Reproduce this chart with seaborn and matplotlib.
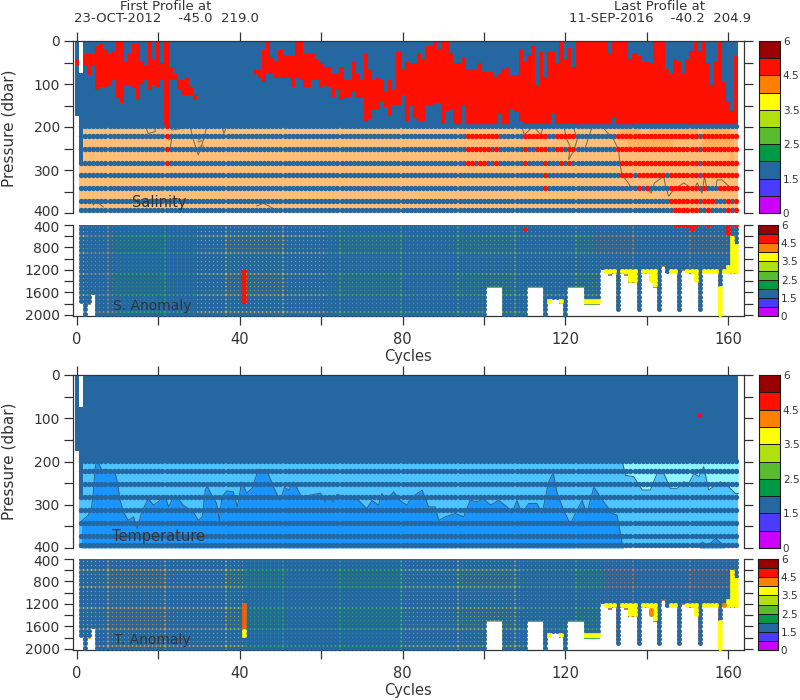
import numpy as np
import seaborn as sns
import matplotlib
matplotlib.use("Agg")
import matplotlib.pyplot as plt
from matplotlib.colors import ListedColormap
from matplotlib.transforms import ScaledTranslation

N = None

# colour bar classes, bottom to top
flag_colors = ["#CC00FF", "#4B3BFF", "#2568A1", "#009944", "#59BB30",
               "#B0E010", "#FFFF00", "#FF8000", "#FF0F00", "#990000"]
flag_labels = ["6", "4.5", "3.5", "2.5", "1.5", "0"]

x_ticks = [0, 20, 40, 60, 80, 100, 120, 140, 160]
x_labels = ["0", "", "40", "", "80", "", "120", "", "160"]

# salinity: red flags in the upper layer, one value per cycle (0 to 162)
sal_red_top = [45, N, 30, 30, 30, 12, 6, 20, 30, 25,
               2, 2, 49, 30, 8, 8, 49, 56, 2, 45,
               2, 52, 2, 60, 77, 91, 91, 85, 108, 126,
               N, N, N, N, N, N, N, N, N, N,
               N, N, N, N, 68, 68, 22, 2, 37, 49,
               20, 33, 35, 35, 2, 2, 30, 30, 31, 41,
               52, 60, 60, 77, 75, 60, 91, 91, 49, 77,
               91, 30, 64, 91, 85, 91, 118, 91, 114, 25,
               66, 49, 52, 52, 29, 41, 12, 12, 2, 18,
               2, 2, 29, 52, 52, 37, 64, 64, 68, 52,
               72, 72, 72, 83, 77, 64, 60, 80, 80, 18,
               49, 33, 12, 103, 25, 83, 25, 25, 52, 2,
               41, 17, 60, 0, 0, 0, 0, 0, 0, 0,
               0, 29, 0, 0, 0, 0, 41, 29, 35, 48,
               48, 52, 0, 0, 0, 66, 77, 41, 48, 75,
               41, 23, 0, 23, 0, 52, 102, 48, 0, 94,
               143, 162, 35]
sal_red_bot = [55, N, 57, 78, 57, 113, 108, 108, 105, 91,
               132, 144, 103, 103, 110, 137, 99, 91, 113, 103,
               108, 91, 198, 91, 91, 113, 126, 126, 126, 137,
               N, N, N, N, N, N, N, N, N, N,
               N, N, N, N, 77, 87, 95, 77, 77, 85,
               85, 85, 87, 108, 87, 91, 108, 108, 91, 91,
               108, 103, 108, 131, 114, 137, 133, 131, 118, 130,
               131, 185, 182, 157, 157, 141, 154, 174, 149, 149,
               126, 187, 151, 180, 187, 187, 151, 151, 145, 145,
               198, 162, 157, 198, 198, 151, 198, 198, 198, 198,
               198, 198, 198, 198, 170, 198, 198, 157, 164, 185,
               198, 198, 198, 198, 198, 198, 198, 170, 198, 198,
               198, 198, 198, 198, 198, 198, 198, 198, 198, 198,
               198, 198, 180, 198, 198, 198, 198, 198, 198, 198,
               198, 198, 198, 198, 198, 198, 198, 198, 198, 198,
               198, 198, 198, 198, 198, 198, 198, 198, 198, 198,
               198, 198, 198]

# sampled pressures below 200 dbar
deep_rows = [198, 222, 252, 283, 312, 342, 372, 392]
# red runs (first cycle, last cycle) for each row of deep_rows
sal_row_red = [
    [(22, 22)],
    [(22, 22), (96, 103), (110, 115), (118, 122), (133, 152), (154, 162)],
    [(22, 22), (96, 101), (103, 103), (110, 110), (113, 115), (118, 119), (121, 122), (133, 152), (154, 162)],
    [(22, 22), (96, 97), (99, 100), (103, 103), (110, 110), (115, 115), (119, 119), (121, 121), (134, 152), (154, 162)],
    [(115, 115), (134, 136), (138, 144), (146, 152), (154, 162)],
    [(115, 115), (138, 138), (140, 140), (146, 152), (154, 154), (158, 162)],
    [(146, 152), (154, 156), (160, 160), (162, 162)],
    [(147, 152), (155, 155), (160, 160), (162, 162)],
]

sal_patch_first = [134, 136, 141, 147, 154, 161]
sal_patch_last = [138, 140, 146, 152, 160, 161]
sal_patch_top = [198, 225, 198, 198, 198, 230]
sal_patch_bot = [225, 252, 250, 230, 252, 285]

sal_contours = [
    ([129.4, 131.9, 133.1, 133.4, 133.9, 135.2, 136, 138.4, 140.5, 141.1, 141.9, 144.2, 144.6, 145.4, 146.6,
      149.1, 151.6, 152.4, 153.6, 154.2, 154.8, 156.9, 157.3, 158.5, 160.2, 162.6],
     [203, 230, 253, 284, 311, 327, 338, 340, 346, 354, 330, 315, 338, 361, 346,
      330, 346, 330, 354, 315, 346, 346, 323, 323, 338, 346]),
    ([119.6, 120.4, 121.2, 120.8, 122, 122.9, 122], [198, 230, 245, 276, 257, 230, 199]),
    ([109.3, 109.9, 112.2, 113.9, 114.7], [198, 218, 198, 218, 198]),
    ([125, 126.6], [245, 199]),
    ([16.7, 17.5, 19.2, 19.2], [198, 215, 211, 198]),
    ([22.9, 23.3, 26.1, 25.7], [198, 207, 203, 198]),
    ([27.8, 28.6, 29.8, 31.1, 31.9], [198, 230, 265, 230, 198]),
    ([35.6, 36.1, 36.8], [198, 215, 198]),
    ([22.5, 23.3, 22.9], [230, 226, 249]),
    ([4, 4.8, 6.5], [381, 374, 386]),
    ([44.2, 45.8, 48.7], [384, 377, 392]),
]

# temperature contours
temp_mid_cycle = [1.1, 2.8, 3.6, 4, 4.4, 4.8, 5.4, 6.1, 7.3, 9.3, 9.8, 10.6, 11.4, 12.6, 13.9, 14.8, 15.9, 17.5,
                  18.8, 20, 21.6, 22.5, 23.7, 24.9, 26.1, 28.6, 29.8, 30.8, 31.5, 32, 33.1, 34.3, 35, 35.6, 36.8,
                  38.4, 39.4, 40.5, 41.7, 43, 44.6, 46.6, 48.3, 49.9, 51, 52, 53.2, 55.2, 59.8, 61, 61.8, 63, 63.9,
                  66.3, 69.2, 71.2, 72.5, 74.1, 74.9, 76.1, 77.8, 79.4, 81.1, 81.9, 84.8, 86.4, 88, 88.9, 90.5, 93,
                  95, 96.6, 98.3, 99.9, 101.6, 103.6, 105.7, 106.9, 108.1, 109.3, 111, 113, 114.3, 115.9, 117, 118,
                  119.6, 121.2, 122.5, 124.1, 125.3, 127, 129.4, 131.5, 132.7, 133.9, 134.3]
temp_mid_p = [338, 324, 305, 274, 220, 197, 205, 220, 218, 224, 243, 290, 317, 336, 328, 355, 317, 286,
              301, 293, 278, 305, 282, 286, 301, 317, 336, 328, 266, 257, 278, 297, 336, 282, 268,
              270, 305, 247, 273, 262, 218, 220, 259, 290, 260, 266, 247, 282, 273, 293, 282, 293, 276,
              282, 290, 309, 290, 301, 274, 290, 270, 290, 301, 286, 266, 305, 305, 336, 328, 320,
              328, 290, 293, 286, 301, 290, 305, 320, 290, 320, 297, 297, 320, 247, 226, 274,
              313, 344, 320, 290, 320, 259, 293, 320, 324, 386, 400]
temp_pale_cycle = [133.9, 134.8, 136.8, 138.9, 140.9, 142.5, 144.2, 145.8, 147.5, 149.1, 150.3, 151.6, 152.8,
                   154, 155.2, 158.1, 160.2, 161.8, 162.5]
temp_pale_p = [197, 232, 235, 266, 266, 228, 228, 262, 262, 247, 251, 228, 235, 212, 266, 247, 259, 274, 274]
temp_blob_cycle = [153, 153.6, 155, 156.9, 158.5, 159]
temp_blob_p = [400, 386, 395, 378, 390, 400]

temp_red_cycle = [153]
temp_red_p = [93]

# anomaly panels
anom_levels = [400, 475, 550, 625, 700, 775, 850, 925, 1000, 1075, 1150, 1225,
               1300, 1375, 1450, 1525, 1600, 1675, 1750, 1825, 1900, 1975]
short_cycle = [1, 2, 3, 4, 101, 102, 103, 104, 111, 112, 113, 114, 116, 117, 118, 119, 121, 122, 123, 124,
               125, 126, 127, 128, 129, 130, 131, 132, 133, 134, 135, 136, 137, 138, 139, 140, 141, 142, 143,
               144, 145, 146, 147, 148, 149, 150, 151, 152, 153, 154, 155, 156, 157, 158, 159, 160, 161, 162]
short_bottom = [1750, 1990, 1800, 1620, 1500, 1500, 1500, 1500, 1500, 1500, 1500, 1500, 1770, 1700, 1700, 1790,
                1500, 1500, 1500, 1500, 1800, 1800, 1800, 1800, 1190, 1250, 1280, 1260, 1905, 1260, 1280, 1420,
                1420, 1905, 1260, 1260, 1380, 1500, 1905, 1130, 1250, 1250, 1250, 1905, 1200, 1230, 1260, 1380,
                1905, 1250, 1250, 1250, 1250, 1980, 1250, 1230, 1260, 1260]
yellow_cycle = [116, 117, 118, 119, 125, 126, 127, 128, 130, 131, 132, 134, 135, 136, 137, 139, 140, 141, 142,
                146, 147, 150, 151, 152, 154, 155, 156, 157, 158, 159, 160, 161, 162]
yellow_top = [1680, 1680, 1680, 1680, 1680, 1680, 1680, 1680, 1200, 1200, 1200, 1200, 1200, 1200, 1200,
              1200, 1200, 1200, 1200, 1200, 1200, 1200, 1200, 1200, 1200, 1200, 1200, 1200, 1500,
              1200, 1130, 600, 720]

s_flag_cycle = [41, 110, 147, 148, 149, 150, 151, 152, 155, 160, 162]
s_flag_top = [1200, 475, 400, 400, 400, 400, 400, 400, 400, 400, 400]
s_flag_bot = [1800, 475, 400, 400, 400, 400, 475, 400, 400, 550, 400]
s_flag_color = ["#FF0F00"] * 11

t_flag_cycle = [41, 41, 41, 141, 159]
t_flag_top = [1200, 1225, 1675, 1300, 1225]
t_flag_bot = [1225, 1675, 1800, 1380, 1225]
t_flag_color = ["#FFFF00", "#FF5A00", "#FFFF00", "#FF8000", "#FF8000"]

# colours showing between the dots: first cycle of each band
s_band_first = [0, 3, 10, 30, 62, 100, 128]
s_band_color = ["#E8C040", "#A09060", "#30B050", "#C8B040", "#50B050", "#70B048", "#B88858"]
t_band_first = [0, 5, 36, 42, 80, 110, 130]
t_band_color = ["#F0C030", "#E8A038", "#B8C030", "#30B050", "#A8B840", "#50B050", "#C07868"]

# thin strip under the last row
s_strip_first = [0, 6, 10, 33, 57, 58, 84, 89, 90, 94, 97, 98, 99, 101, 105, 111, 115, 116, 120, 121]
s_strip_color = ["#FFFF60", "#2568A1", "#B0F070", "#FFE860", "#2568A1", "#FFE860", "#70E060", "#2568A1", "#70E060",
                 "#FFE860", "#2568A1", "#FFE860", "#FFFF00", "#FFFFFF", "#FFFF00", "#FFFFFF", "#FFFF00", "#FFFFFF",
                 "#FFFF00", "#FFFFFF"]
t_strip_first = [0, 6, 10, 36, 42, 57, 58, 84, 89, 90, 94, 97, 98, 99, 101, 105, 111, 115, 116, 120, 121]
t_strip_color = ["#FFFF60", "#2568A1", "#FFC850", "#FFF060", "#70F050", "#2568A1", "#70F050", "#90E860", "#2568A1",
                 "#90E860", "#FFE860", "#2568A1", "#90E860", "#FFFF00", "#FFFFFF", "#FFFF00", "#FFFFFF", "#FFFF00",
                 "#FFFFFF", "#FFFF00", "#FFFFFF"]

BLUE = "#2568A1"
RED = "#FF0F00"
YELLOW = "#FFFF00"
INK = "#333333"
W, H = 800, 700
n_cycles = 163
DOT = 15
ANOM_DOT = 12.5


def px_axes(fig, x0, y0, x1, y1):
    return fig.add_axes([x0 / W, 1 - y1 / H, (x1 - x0) / W, (y1 - y0) / H])


def ftext(fig, x, y, s, **kw):
    kw.setdefault("color", INK)
    kw.setdefault("ha", "center")
    kw.setdefault("va", "center")
    fig.text(x / W, 1 - y / H, s, **kw)


def colorbar(fig, y0, y1, x0=759, x1=780):
    cax = px_axes(fig, x0, y0, x1, y1)
    vals = np.arange(10)[::-1].reshape(-1, 1)
    sns.heatmap(vals, cmap=ListedColormap(flag_colors), vmin=0, vmax=9, cbar=False,
                linewidths=0.7, linecolor="#1a1a1a", xticklabels=False, yticklabels=False, ax=cax)
    cax.yaxis.tick_right()
    cax.set_yticks([0, 2, 4, 6, 8, 10])
    cax.set_yticklabels(flag_labels, rotation=0, fontsize=7.5, color=INK)
    cax.tick_params(length=0, pad=2, right=False, left=False)
    cax.set_xticks([])
    for s in cax.spines.values():
        s.set_visible(True)
        s.set_color("#1a1a1a")
        s.set_linewidth(0.8)


def nudge_label(ax, label, dy_px):
    # the 400 labels of two stacked panels nearly touch
    off = ScaledTranslation(0, dy_px / 100, ax.figure.dpi_scale_trans)
    label.set_transform(label.get_transform() + off)


def style_axis(ax, top, yticks, ylabels):
    ax.set_xticks([c + 0.5 for c in x_ticks])
    ax.set_yticks(yticks)
    ax.set_yticklabels(ylabels, rotation=0, fontsize=10, color=INK)
    if top:
        ax.xaxis.tick_top()
        ax.set_xticklabels([])
        ax.tick_params(axis="x", top=True, bottom=False, length=6.5, width=0.9, color=INK)
    else:
        ax.set_xticklabels(x_labels, rotation=0, fontsize=10.5, color=INK)
        ax.tick_params(axis="x", top=False, bottom=True, length=6.5, width=0.9, color=INK, pad=5)
    ax.tick_params(axis="y", left=True, right=True, length=6.5, width=0.9, color=INK, pad=3)
    ax.spines["left"].set_visible(True)
    ax.spines["right"].set_visible(True)
    ax.spines["top"].set_visible(top)
    ax.spines["bottom"].set_visible(not top)
    for s in ax.spines.values():
        s.set_color(INK)
        s.set_linewidth(0.9)
    ax.set_xlabel("")
    ax.set_ylabel("")
    ax.set_xlim(-0.48, 164.4)


def dots(ax, xs, ys, color, size=DOT):
    if len(xs):
        sns.scatterplot(x=xs, y=ys, color=color, s=size, linewidth=0, legend=False, zorder=3, ax=ax)


def upper_base():
    # blue down to the first deep row, with the two odd columns on the left
    grid = np.full((400, n_cycles), np.nan)
    grid[:198, 2:] = 0
    grid[:175, 0] = 0
    grid[75:285, 1] = 0
    return grid


def salinity_panel(ax):
    cols = [BLUE, RED, "#FFBE78", "#FFB05A"]
    grid = upper_base()
    grid[198:400, 2:] = 2
    grid[285:400, 1] = 2
    for a, b, t, u in zip(sal_patch_first, sal_patch_last, sal_patch_top, sal_patch_bot):
        grid[t:u, a:b + 1] = 3
    for c in range(n_cycles):
        if sal_red_top[c] is not None:
            grid[sal_red_top[c]:sal_red_bot[c], c] = 1
    sns.heatmap(grid, cmap=ListedColormap(cols), vmin=0, vmax=3, cbar=False,
                xticklabels=False, yticklabels=False, ax=ax)
    for xs, ps in sal_contours:
        ax.plot([v + 0.5 for v in xs], ps, color="#6b6b55", lw=0.7, zorder=2)
    ax.text(30.2, 236, "14.0", fontsize=5, rotation=-75, color="#6b6b55", ha="center", va="center", zorder=2)
    bx, by, rx, ry = [], [], [], []
    for p, runs in zip(deep_rows, sal_row_red):
        for c in range(1, n_cycles):
            if any(a <= c <= b for a, b in runs):
                rx.append(c + 0.5)
                ry.append(p)
            else:
                bx.append(c + 0.5)
                by.append(p)
    dots(ax, bx, by, BLUE)
    dots(ax, rx, ry, RED)
    style_axis(ax, True, list(range(0, 401, 50)), ["0", "", "100", "", "200", "", "300", "", "400"])
    nudge_label(ax, ax.get_yticklabels()[-1], 2)
    ax.set_ylim(400, 0)


def temperature_panel(ax):
    cols = [BLUE, RED, "#4DC3FF"]
    grid = upper_base()
    grid[198:400, 2:] = 2
    grid[285:400, 1] = 2
    for c, p in zip(temp_red_cycle, temp_red_p):
        grid[p - 3:p + 3, c] = 1
    sns.heatmap(grid, cmap=ListedColormap(cols), vmin=0, vmax=2, cbar=False,
                xticklabels=False, yticklabels=False, ax=ax)
    xm = [v + 0.5 for v in temp_mid_cycle]
    ax.fill_between(xm, temp_mid_p, 400, color="#1A94FF", lw=0, zorder=1)
    ax.plot(xm, temp_mid_p, color="#35607a", lw=0.7, zorder=2)
    xp = [v + 0.5 for v in temp_pale_cycle]
    ax.fill_between(xp, 198, temp_pale_p, color="#90F4FF", lw=0, zorder=1)
    ax.plot(xp, temp_pale_p, color="#35607a", lw=0.7, zorder=2)
    xb = [v + 0.5 for v in temp_blob_cycle]
    ax.fill_between(xb, temp_blob_p, 400, color="#1A94FF", lw=0, zorder=1)
    ax.plot(xb, temp_blob_p, color="#35607a", lw=0.7, zorder=2)
    bx, by = [], []
    for p in deep_rows:
        for c in range(1, n_cycles):
            bx.append(c + 0.5)
            by.append(p)
    dots(ax, bx, by, BLUE)
    style_axis(ax, True, list(range(0, 401, 50)), ["0", "", "100", "", "200", "", "300", "", "400"])
    nudge_label(ax, ax.get_yticklabels()[-1], 2)
    ax.set_ylim(400, 0)


def anomaly_panel(ax, band_first, band_color, strip_first, strip_color, flag_c, flag_t, flag_b, flag_col):
    bottom = {c: 2000 for c in range(1, n_cycles)}
    bottom.update(dict(zip(short_cycle, short_bottom)))
    ytop = dict(zip(yellow_cycle, yellow_top))

    cols = list(dict.fromkeys(list(band_color) + list(strip_color) + list(flag_col) + [YELLOW]))
    grid = np.full((81, n_cycles), np.nan)
    for i, first in enumerate(band_first):
        last = band_first[i + 1] if i + 1 < len(band_first) else n_cycles
        for c in range(max(first, 1), last):
            grid[: int((bottom[c] - 400) / 20) + 1, c] = cols.index(band_color[i])
    for i, first in enumerate(strip_first):
        last = strip_first[i + 1] if i + 1 < len(strip_first) else n_cycles
        for c in range(max(first, 1), last):
            if bottom[c] >= 2000:
                grid[80, c] = cols.index(strip_color[i])
    # flagged stretches are solid, the dots do not leave gaps there
    for c, t in ytop.items():
        grid[int((t - 400) / 20): int((bottom[c] - 400) / 20), c] = cols.index(YELLOW)
    for fc, ft, fb, fcol in zip(flag_c, flag_t, flag_b, flag_col):
        if fb > ft:
            grid[int((ft - 400) / 20): int((fb - 400) / 20), fc] = cols.index(fcol)
    sns.heatmap(grid, cmap=ListedColormap(cols), vmin=0, vmax=len(cols) - 1, cbar=False,
                xticklabels=False, yticklabels=False, ax=ax)

    groups = {}
    for c in range(1, n_cycles):
        for p in anom_levels:
            if p > bottom[c]:
                continue
            col = BLUE
            if c in ytop and p >= ytop[c]:
                col = YELLOW
            for fc, ft, fb, fcol in zip(flag_c, flag_t, flag_b, flag_col):
                if fc == c and ft <= p <= fb:
                    col = fcol
            groups.setdefault(col, ([], []))
            groups[col][0].append(c + 0.5)
            groups[col][1].append((p - 400) / 20)
    for col, (xs, ys) in groups.items():
        dots(ax, xs, ys, col, ANOM_DOT)
    style_axis(ax, False, [(p - 400) / 20 for p in range(400, 2001, 200)],
               ["400", "", "800", "", "1200", "", "1600", "", "2000"])
    nudge_label(ax, ax.get_yticklabels()[0], -2)
    ax.set_ylim(80.9, 0)


fig = plt.figure(figsize=(W / 100, H / 100), dpi=100)

ax1 = px_axes(fig, 73, 41, 744, 213)
salinity_panel(ax1)
ax2 = px_axes(fig, 73, 225, 744, 316)
anomaly_panel(ax2, s_band_first, s_band_color, s_strip_first, s_strip_color,
              s_flag_cycle, s_flag_top, s_flag_bot, s_flag_color)
ax3 = px_axes(fig, 73, 375, 744, 548)
temperature_panel(ax3)
ax4 = px_axes(fig, 73, 559, 744, 650)
anomaly_panel(ax4, t_band_first, t_band_color, t_strip_first, t_strip_color,
              t_flag_cycle, t_flag_top, t_flag_bot, t_flag_color)

colorbar(fig, 41, 213)
colorbar(fig, 225, 316, 758, 778)
colorbar(fig, 375, 548)
colorbar(fig, 559, 650, 758, 778)

ftext(fig, 166, 6, "First Profile at", fontsize=9.5)
ftext(fig, 166, 18, "23-OCT-2012    -45.0  219.0", fontsize=9.5)
ftext(fig, 660, 6, "Last Profile at", fontsize=9.5)
ftext(fig, 660, 18, "11-SEP-2016    -40.2  204.9", fontsize=9.5)
ftext(fig, 159, 202, "Salinity", fontsize=10.5)
ftext(fig, 152, 306, "S. Anomaly", fontsize=10)
ftext(fig, 159, 536, "Temperature", fontsize=10.5)
ftext(fig, 152, 640, "T. Anomaly", fontsize=10)
ftext(fig, 408, 356, "Cycles", fontsize=10.5)
ftext(fig, 408, 691, "Cycles", fontsize=10.5)
ftext(fig, 9, 128, "Pressure (dbar)", fontsize=11, rotation=90)
ftext(fig, 9, 461, "Pressure (dbar)", fontsize=11, rotation=90)

fig.savefig("out.png", dpi=100)
